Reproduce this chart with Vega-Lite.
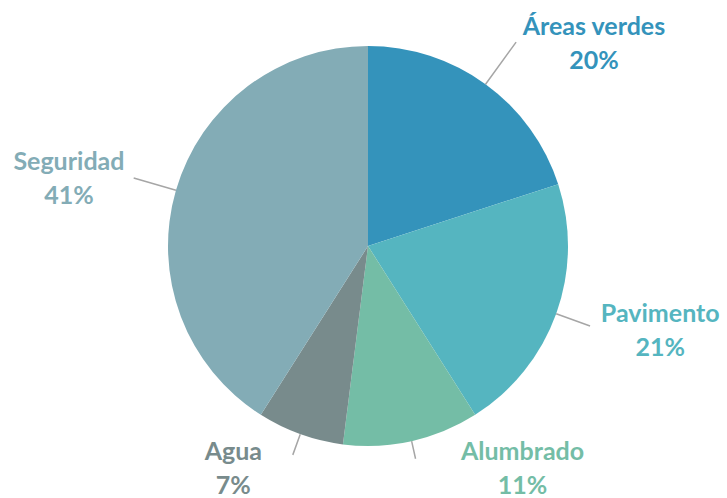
{
  "$schema": "https://vega.github.io/schema/vega-lite/v6.json",
  "width": 726,
  "height": 492,
  "autosize": "none",
  "padding": {"left": 5, "top": 0, "right": 0, "bottom": 6},
  "background": "white",
  "view": {"stroke": null},
  "data": {
    "values": [
      {"categoria": "Áreas verdes", "valor": 0.20, "orden": 1},
      {"categoria": "Pavimento", "valor": 0.21, "orden": 2},
      {"categoria": "Alumbrado", "valor": 0.11, "orden": 3},
      {"categoria": "Agua", "valor": 0.07, "orden": 4},
      {"categoria": "Seguridad", "valor": 0.41, "orden": 5}
    ]
  },
  "encoding": {
    "theta": {"field": "valor", "type": "quantitative", "stack": true},
    "order": {"field": "orden", "type": "quantitative"},
    "color": {
      "field": "categoria",
      "type": "nominal",
      "legend": null,
      "scale": {
        "domain": ["Áreas verdes", "Pavimento", "Alumbrado", "Agua", "Seguridad"],
        "range": ["#3493BB", "#55B5C0", "#74BDA6", "#788B8C", "#83ACB6"]
      }
    }
  },
  "layer": [
    {
      "mark": {"type": "arc", "outerRadius": 200, "innerRadius": 0}
    },
    {
      "mark": {
        "type": "arc",
        "radius": {"expr": "datum.categoria === 'Áreas verdes' ? 252 : datum.categoria === 'Pavimento' ? 236 : datum.categoria === 'Alumbrado' ? 218 : datum.categoria === 'Agua' ? 222 : 244"},
        "radius2": 200,
        "padAngle": 3,
        "filled": false,
        "stroke": "#A6A6A6",
        "strokeWidth": 1.5
      },
      "encoding": {
        "color": {"value": "#A6A6A6"},
        "detail": {"field": "categoria", "type": "nominal"}
      }
    },
    {
      "mark": {
        "type": "text",
        "radius": 250,
        "font": "Lato",
        "fontWeight": "bold",
        "fontSize": 25,
        "align": "center",
        "baseline": "middle",
        "dx": {"expr": "datum.categoria === 'Áreas verdes' ? 79 : datum.categoria === 'Pavimento' ? 57 : datum.categoria === 'Alumbrado' ? 100 : datum.categoria === 'Agua' ? -50 : -59"},
        "dy": {"expr": "-17 + (datum.categoria === 'Áreas verdes' ? 0 : datum.categoria === 'Pavimento' ? 0 : datum.categoria === 'Alumbrado' ? -21 : datum.categoria === 'Agua' ? -12 : 3)"}
      },
      "encoding": {
        "text": {"field": "categoria", "type": "nominal"}
      }
    },
    {
      "mark": {
        "type": "text",
        "radius": 250,
        "font": "Lato",
        "fontWeight": "bold",
        "fontSize": 25,
        "align": "center",
        "baseline": "middle",
        "dx": {"expr": "datum.categoria === 'Áreas verdes' ? 79 : datum.categoria === 'Pavimento' ? 57 : datum.categoria === 'Alumbrado' ? 100 : datum.categoria === 'Agua' ? -50 : -59"},
        "dy": {"expr": "17 + (datum.categoria === 'Áreas verdes' ? 0 : datum.categoria === 'Pavimento' ? 0 : datum.categoria === 'Alumbrado' ? -21 : datum.categoria === 'Agua' ? -12 : 3)"}
      },
      "encoding": {
        "text": {"field": "valor", "type": "quantitative", "format": ".0%"}
      }
    }
  ]
}
